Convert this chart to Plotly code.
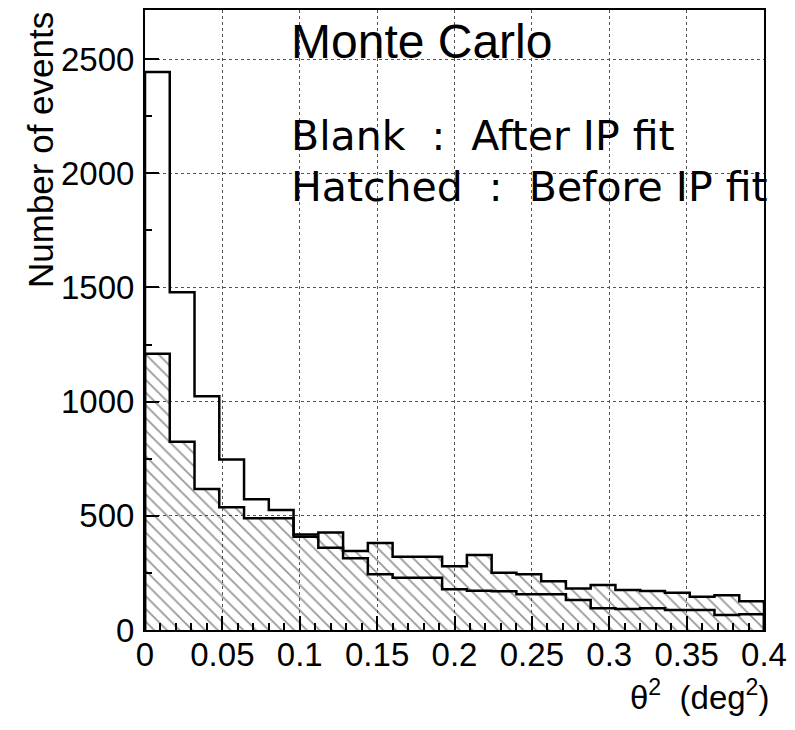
import plotly.graph_objects as go

# ---- data ----
bin_width = 0.016
n_bins = 25
after_fit = [2443, 1479, 1024, 747, 573, 525, 408, 360, 314, 244, 229, 229, 178,
             172, 170, 157, 157, 131, 95, 92, 95, 88, 88, 66, 69]
before_fit = [1210, 824, 617, 537, 489, 489, 418, 427, 346, 381, 321, 321, 279,
              328, 251, 244, 214, 182, 197, 175, 171, 163, 146, 152, 126]
x_tick_vals = [0, 0.05, 0.1, 0.15, 0.2, 0.25, 0.3, 0.35, 0.4]
x_tick_text = ["0", "0.05", "0.1", "0.15", "0.2", "0.25", "0.3", "0.35", "0.4"]
y_tick_vals = [0, 500, 1000, 1500, 2000, 2500]
y_tick_text = ["0", "500", "1000", "1500", "2000", "2500"]

edges = [i * bin_width for i in range(n_bins + 1)]
centers = [(edges[i] + edges[i + 1]) / 2 for i in range(n_bins)]

# ---- geometry (the page body adds an 8px offset) ----
OFF = 8
W, H = 795, 730
L, R, T, B = 145 - OFF, 31 + OFF, 10 - OFF, 100 + OFF
PW, PH = W - L - R, H - T - B


def px(xp):  # screen x pixel -> paper
    return (xp - OFF - L) / PW


def py(yp):  # screen y pixel -> paper
    return (H - B - (yp - OFF)) / PH


fig = go.Figure()

# hatched histogram (before IP fit)
fig.add_trace(go.Bar(
    x=centers, y=before_fit, width=[bin_width] * n_bins,
    marker=dict(color="rgba(0,0,0,0)", line=dict(width=0),
                pattern=dict(shape="\\", fgcolor="#333333", bgcolor="rgba(0,0,0,0)",
                             size=9, solidity=0.2, fillmode="overlay")),
    showlegend=False, hoverinfo="skip"))

# outlines
for vals in (before_fit, after_fit):
    fig.add_trace(go.Scatter(
        x=[0] + edges + [edges[-1]],
        y=[0] + vals + [vals[-1], 0],
        mode="lines", line=dict(color="black", width=2.5, shape="hv"),
        showlegend=False, hoverinfo="skip"))

axis_common = dict(
    showline=True, linecolor="black", linewidth=2, mirror=True,
    ticks="inside", tickcolor="black", tickwidth=1.5,
    showgrid=True, gridcolor="#555555", gridwidth=1, griddash="dot",
    zeroline=False, automargin=False,
    tickfont=dict(family="Liberation Sans, Arial, sans-serif", size=33, color="black"),
)

fig.update_xaxes(
    range=[0, 0.4], tickvals=x_tick_vals, ticktext=x_tick_text, ticklen=14,
    minor=dict(dtick=0.01, ticklen=7, ticks="inside", tickcolor="black", showgrid=False),
    ticklabelstandoff=-6,
    **axis_common)
fig.update_yaxes(
    range=[0, 2715], tickvals=y_tick_vals, ticktext=y_tick_text, ticklen=14,
    minor=dict(dtick=250, ticklen=7, ticks="inside", tickcolor="black", showgrid=False),
    ticklabelstandoff=2,
    **axis_common)

ann = []
ann.append(dict(text="Monte Carlo", xref="paper", yref="paper", x=px(289), y=py(41.5),
                xanchor="left", yanchor="middle", showarrow=False,
                font=dict(family="Liberation Sans, Arial", size=48, color="black")))
ann.append(dict(text="Blank\u00a0 :\u00a0 After IP fit", xref="paper", yref="paper",
                x=px(289), y=py(136.5), xanchor="left", yanchor="middle", showarrow=False,
                font=dict(family="DejaVu Sans", size=41, color="black")))
ann.append(dict(text="Hatched\u00a0 :\u00a0 Before IP fit", xref="paper", yref="paper",
                x=px(289), y=py(186.5), xanchor="left", yanchor="middle", showarrow=False,
                font=dict(family="DejaVu Sans", size=41, color="black")))
ann.append(dict(text="Number of events", xref="paper", yref="paper", x=px(40), y=py(10),
                xanchor="center", yanchor="top", textangle=-90, showarrow=False,
                font=dict(family="Liberation Sans, Arial", size=35, color="black")))
ann.append(dict(text="\u03b8<sup>2</sup>\u00a0 (deg<sup>2</sup>)", xref="paper", yref="paper",
                x=px(771), y=py(695), xanchor="right", yanchor="middle", showarrow=False,
                font=dict(family="Liberation Sans, Arial", size=33, color="black")))

fig.update_layout(
    width=W, height=H, margin=dict(l=L, r=R, t=T, b=B),
    paper_bgcolor="white", plot_bgcolor="white",
    bargap=0, barmode="overlay", annotations=ann,
)

fig.write_html("out.html")
